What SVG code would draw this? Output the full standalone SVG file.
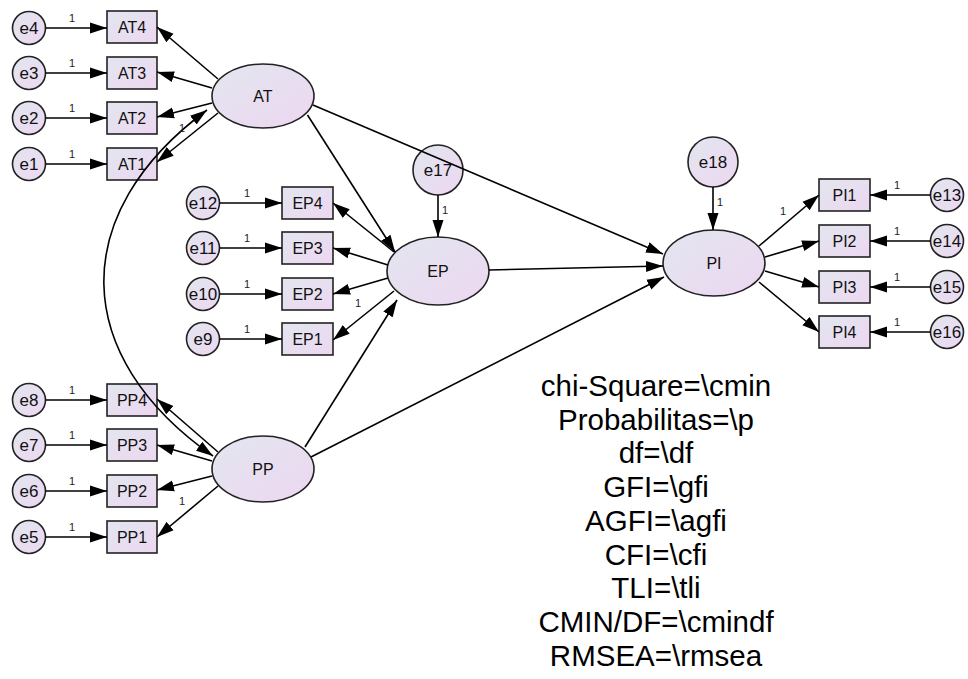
<svg xmlns="http://www.w3.org/2000/svg" width="968" height="679" viewBox="0 0 968 679">
<defs>
<linearGradient id="g" x1="0" y1="0" x2="1" y2="1">
<stop offset="0" stop-color="#e2e6ef"/>
<stop offset="1" stop-color="#edd7f1"/>
</linearGradient>
<marker id="ah" markerUnits="userSpaceOnUse" markerWidth="18" markerHeight="12" refX="17" refY="5.5" orient="auto-start-reverse" viewBox="0 0 18 11">
<path d="M0,0 L17,5.5 L0,11 z" fill="#000"/>
</marker>
<style>
.n{fill:url(#g);stroke:#222;stroke-width:1.6}
.t{font-family:"Liberation Sans",Arial,sans-serif;font-size:16px;fill:#111;text-anchor:middle}
.te{font-family:"Liberation Sans",Arial,sans-serif;font-size:17px;fill:#111;text-anchor:middle}
.w{font-family:"Liberation Sans",Arial,sans-serif;font-size:11px;fill:#222;text-anchor:middle}
.f{font-family:"Liberation Sans",Arial,sans-serif;font-size:29.5px;fill:#000;text-anchor:middle}
.c line,.c path{stroke:#000;stroke-width:1.6;fill:none;marker-end:url(#ah)}
.c path.cov{marker-start:url(#ah)}
</style>
</defs>
<rect width="968" height="679" fill="#fff"/>
<g id="e4"><circle class="n" cx="29" cy="28" r="16.5"/><text class="te" x="29" y="34">e4</text></g>
<g id="e3"><circle class="n" cx="29" cy="73" r="16.5"/><text class="te" x="29" y="79">e3</text></g>
<g id="e2"><circle class="n" cx="29" cy="118" r="16.5"/><text class="te" x="29" y="124">e2</text></g>
<g id="e1"><circle class="n" cx="29" cy="164" r="16.5"/><text class="te" x="29" y="170">e1</text></g>
<g id="e8"><circle class="n" cx="29" cy="400" r="16.5"/><text class="te" x="29" y="406">e8</text></g>
<g id="e7"><circle class="n" cx="29" cy="445" r="16.5"/><text class="te" x="29" y="451">e7</text></g>
<g id="e6"><circle class="n" cx="29" cy="491" r="16.5"/><text class="te" x="29" y="497">e6</text></g>
<g id="e5"><circle class="n" cx="29" cy="537" r="16.5"/><text class="te" x="29" y="543">e5</text></g>
<g id="e12"><circle class="n" cx="203" cy="203" r="16.5"/><text class="te" x="203" y="209">e12</text></g>
<g id="e11"><circle class="n" cx="203" cy="248" r="16.5"/><text class="te" x="203" y="254">e11</text></g>
<g id="e10"><circle class="n" cx="203" cy="294" r="16.5"/><text class="te" x="203" y="300">e10</text></g>
<g id="e9"><circle class="n" cx="203" cy="339" r="16.5"/><text class="te" x="203" y="345">e9</text></g>
<g id="e13"><circle class="n" cx="947" cy="195" r="16.5"/><text class="te" x="947" y="201">e13</text></g>
<g id="e14"><circle class="n" cx="947" cy="241" r="16.5"/><text class="te" x="947" y="247">e14</text></g>
<g id="e15"><circle class="n" cx="947" cy="287" r="16.5"/><text class="te" x="947" y="293">e15</text></g>
<g id="e16"><circle class="n" cx="947" cy="332" r="16.5"/><text class="te" x="947" y="338">e16</text></g>
<g id="e17"><circle class="n" cx="438" cy="170" r="25"/><text class="te" x="438" y="176">e17</text></g>
<g id="e18"><circle class="n" cx="713" cy="162" r="25"/><text class="te" x="713" y="168">e18</text></g>
<g id="AT4"><rect class="n" x="107" y="11" width="50" height="32"/><text class="t" x="132" y="33">AT4</text></g>
<g id="AT3"><rect class="n" x="107" y="57" width="50" height="32"/><text class="t" x="132" y="79">AT3</text></g>
<g id="AT2"><rect class="n" x="107" y="102" width="50" height="32"/><text class="t" x="132" y="124">AT2</text></g>
<g id="AT1"><rect class="n" x="107" y="148" width="50" height="32"/><text class="t" x="132" y="170">AT1</text></g>
<g id="PP4"><rect class="n" x="107" y="384" width="50" height="32"/><text class="t" x="132" y="406">PP4</text></g>
<g id="PP3"><rect class="n" x="107" y="429" width="50" height="32"/><text class="t" x="132" y="451">PP3</text></g>
<g id="PP2"><rect class="n" x="107" y="475" width="50" height="32"/><text class="t" x="132" y="497">PP2</text></g>
<g id="PP1"><rect class="n" x="107" y="521" width="50" height="32"/><text class="t" x="132" y="543">PP1</text></g>
<g id="EP4"><rect class="n" x="282" y="187" width="51" height="32"/><text class="t" x="307.5" y="209">EP4</text></g>
<g id="EP3"><rect class="n" x="282" y="232" width="51" height="32"/><text class="t" x="307.5" y="254">EP3</text></g>
<g id="EP2"><rect class="n" x="282" y="278" width="51" height="32"/><text class="t" x="307.5" y="300">EP2</text></g>
<g id="EP1"><rect class="n" x="282" y="323" width="51" height="32"/><text class="t" x="307.5" y="345">EP1</text></g>
<g id="PI1"><rect class="n" x="819" y="179" width="51" height="32"/><text class="t" x="844.5" y="201">PI1</text></g>
<g id="PI2"><rect class="n" x="819" y="225" width="51" height="32"/><text class="t" x="844.5" y="247">PI2</text></g>
<g id="PI3"><rect class="n" x="819" y="271" width="51" height="32"/><text class="t" x="844.5" y="293">PI3</text></g>
<g id="PI4"><rect class="n" x="819" y="316" width="51" height="32"/><text class="t" x="844.5" y="338">PI4</text></g>
<g id="AT"><ellipse class="n" cx="263" cy="96" rx="51" ry="32"/><text class="t" x="263" y="102">AT</text></g>
<g id="EP"><ellipse class="n" cx="438" cy="271" rx="51" ry="34"/><text class="t" x="438" y="277">EP</text></g>
<g id="PI"><ellipse class="n" cx="714" cy="263" rx="51" ry="33"/><text class="t" x="714" y="269">PI</text></g>
<g id="PP"><ellipse class="n" cx="263" cy="469" rx="51" ry="33"/><text class="t" x="263" y="475">PP</text></g>
<g id="connectors" class="c">
<line x1="45.5" y1="28" x2="107" y2="28"/>
<line x1="45.5" y1="73" x2="107" y2="73"/>
<line x1="45.5" y1="118" x2="107" y2="118"/>
<line x1="45.5" y1="164" x2="107" y2="164"/>
<line x1="45.5" y1="400" x2="107" y2="400"/>
<line x1="45.5" y1="445" x2="107" y2="445"/>
<line x1="45.5" y1="491" x2="107" y2="491"/>
<line x1="45.5" y1="537" x2="107" y2="537"/>
<line x1="219.5" y1="203" x2="282" y2="203"/>
<line x1="219.5" y1="248" x2="282" y2="248"/>
<line x1="219.5" y1="294" x2="282" y2="294"/>
<line x1="219.5" y1="339" x2="282" y2="339"/>
<line x1="930.5" y1="195" x2="870" y2="195"/>
<line x1="930.5" y1="241" x2="870" y2="241"/>
<line x1="930.5" y1="287" x2="870" y2="287"/>
<line x1="930.5" y1="332" x2="870" y2="332"/>
<line x1="218" y1="79" x2="157" y2="27"/>
<line x1="212" y1="88" x2="157" y2="72"/>
<line x1="212" y1="103" x2="157" y2="117"/>
<line x1="218" y1="113" x2="157" y2="162"/>
<line x1="218" y1="452" x2="157" y2="399"/>
<line x1="212" y1="461" x2="157" y2="445"/>
<line x1="212" y1="476" x2="157" y2="490"/>
<line x1="218" y1="486" x2="157" y2="537"/>
<line x1="394" y1="252" x2="333" y2="203"/>
<line x1="388" y1="265" x2="333" y2="248"/>
<line x1="388" y1="278" x2="333" y2="294"/>
<line x1="394" y1="291" x2="333" y2="340"/>
<line x1="759" y1="246" x2="819" y2="195"/>
<line x1="765" y1="257" x2="819" y2="241"/>
<line x1="765" y1="271" x2="819" y2="287"/>
<line x1="759" y1="282" x2="819" y2="332"/>
<line x1="307.5" y1="115" x2="395" y2="252"/>
<line x1="313" y1="105" x2="663" y2="254"/>
<line x1="489" y1="270" x2="663" y2="266"/>
<line x1="305" y1="447" x2="397" y2="300"/>
<line x1="311" y1="457" x2="664" y2="277"/>
<line x1="438" y1="195" x2="438" y2="237"/>
<line x1="713" y1="187" x2="713" y2="230"/>
<path class="cov" d="M213,456 C70,356 67,213.5 207,110"/>
</g>
<g id="weights">
<text class="w" x="72" y="22">1</text>
<text class="w" x="72" y="67">1</text>
<text class="w" x="72" y="112">1</text>
<text class="w" x="72" y="158">1</text>
<text class="w" x="72" y="394">1</text>
<text class="w" x="72" y="439">1</text>
<text class="w" x="72" y="485">1</text>
<text class="w" x="72" y="531">1</text>
<text class="w" x="247" y="197">1</text>
<text class="w" x="247" y="242">1</text>
<text class="w" x="247" y="288">1</text>
<text class="w" x="247" y="333">1</text>
<text class="w" x="897" y="189">1</text>
<text class="w" x="897" y="235">1</text>
<text class="w" x="897" y="281">1</text>
<text class="w" x="897" y="326">1</text>
<text class="w" x="182" y="132">1</text>
<text class="w" x="182" y="505">1</text>
<text class="w" x="358" y="307">1</text>
<text class="w" x="783" y="215">1</text>
<text class="w" x="445" y="214">1</text>
<text class="w" x="720" y="206">1</text>
</g>
<g id="fit">
<text class="f" x="656" y="396">chi-Square=\cmin</text>
<text class="f" x="656" y="429.7">Probabilitas=\p</text>
<text class="f" x="656" y="463.4">df=\df</text>
<text class="f" x="656" y="497.1">GFI=\gfi</text>
<text class="f" x="656" y="530.8">AGFI=\agfi</text>
<text class="f" x="656" y="564.5">CFI=\cfi</text>
<text class="f" x="656" y="598.2">TLI=\tli</text>
<text class="f" x="656" y="631.9">CMIN/DF=\cmindf</text>
<text class="f" x="656" y="665.6">RMSEA=\rmsea</text>
</g>
</svg>
